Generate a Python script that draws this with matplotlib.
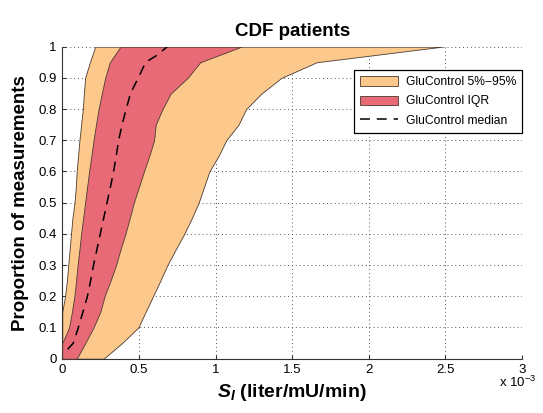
import numpy as np
import matplotlib
matplotlib.use("Agg")
import matplotlib.pyplot as plt
from matplotlib.ticker import FuncFormatter, MultipleLocator

plt.rcParams['font.family'] = ['Liberation Sans', 'DejaVu Sans']
plt.rcParams['mathtext.fontset'] = 'custom'
plt.rcParams['mathtext.rm'] = 'Liberation Sans'
plt.rcParams['mathtext.it'] = 'Liberation Sans:italic'
plt.rcParams['mathtext.bf'] = 'Liberation Sans:bold'
plt.rcParams['mathtext.bfit'] = 'Liberation Sans:bold:italic'

# Proportion levels (y) for the band edges
prop = [0, 0.05, 0.1, 0.15, 0.2, 0.25, 0.3, 0.35, 0.4, 0.45, 0.5,
        0.55, 0.6, 0.65, 0.7, 0.75, 0.8, 0.85, 0.9, 0.95, 1.0]
# SI values (x 1e-3 liter/mU/min)
p05 = [0, 0, 0, 0, 0.018, 0.03, 0.039, 0.048, 0.057, 0.066, 0.08,
       0.088, 0.094, 0.103, 0.112, 0.123, 0.134, 0.141, 0.149, 0.18, 0.215]
p25 = [0, 0, 0.044, 0.063, 0.079, 0.09, 0.10, 0.112, 0.123, 0.136, 0.149,
       0.162, 0.175, 0.19, 0.204, 0.22, 0.237, 0.258, 0.28, 0.31, 0.38]
p75 = [0.094, 0.15, 0.204, 0.248, 0.276, 0.315, 0.351, 0.38, 0.412, 0.44, 0.467,
       0.5, 0.533, 0.568, 0.599, 0.61, 0.654, 0.708, 0.818, 0.9, 1.169]
p95 = [0.27, 0.39, 0.496, 0.544, 0.592, 0.64, 0.686, 0.74, 0.796, 0.845, 0.89,
       0.925, 0.96, 1.02, 1.07, 1.15, 1.2, 1.3, 1.43, 1.66, 2.48]
prop_med = [0.03, 0.05, 0.1, 0.15, 0.2, 0.25, 0.3, 0.35, 0.4, 0.45, 0.5,
            0.55, 0.6, 0.65, 0.7, 0.75, 0.8, 0.85, 0.9, 0.95, 0.97, 1.0]
p50 = [0.035, 0.072, 0.105, 0.135, 0.164, 0.185, 0.204, 0.226, 0.248, 0.27, 0.292,
       0.314, 0.335, 0.352, 0.368, 0.39, 0.417, 0.445, 0.496, 0.544, 0.61, 0.686]

scale = 1e-3
y = np.array(prop)
x05 = np.array(p05) * scale
x25 = np.array(p25) * scale
x75 = np.array(p75) * scale
x95 = np.array(p95) * scale
x50 = np.array(p50) * scale
ym = np.array(prop_med)

orange = '#FDC88C'
red = '#E86A77'
edge = '#4a3a30'

fig = plt.figure(figsize=(5.43, 4.13), dpi=100)
ax = fig.add_axes([0.1147, 0.1315, 0.8466, 0.7555])

ax.fill_betweenx(y, x05, x95, facecolor=orange, edgecolor=edge, linewidth=0.6,
                 label='GluControl 5%\u221295%', zorder=2)
ax.fill_betweenx(y, x25, x75, facecolor=red, edgecolor=edge, linewidth=0.6,
                 label='GluControl IQR', zorder=3)
ax.plot(x50, ym, color='black', linestyle=(0, (6.5, 4.5)), linewidth=1.1,
        label='GluControl median', zorder=4)

ax.set_xlim(0, 3e-3)
ax.set_ylim(0, 1)
ax.xaxis.set_major_locator(MultipleLocator(0.5e-3))
ax.yaxis.set_major_locator(MultipleLocator(0.1))
ax.xaxis.set_major_formatter(FuncFormatter(lambda v, p: f"{v/scale:g}"))
ax.yaxis.set_major_formatter(FuncFormatter(lambda v, p: f"{round(v, 2):g}"))
ax.grid(True, linestyle=(0, (1, 3)), color='#555555', linewidth=0.7, zorder=0)
ax.set_axisbelow(True)
for s in ['top', 'right']:
    ax.spines[s].set_visible(False)
for s in ['left', 'bottom']:
    ax.spines[s].set_color('#333333')
    ax.spines[s].set_linewidth(0.8)
ax.tick_params(direction='in', length=3, labelsize=9.5, colors='#333333',
               labelcolor='black', pad=4)

ax.set_title('CDF patients', fontsize=13.5, fontweight='bold', pad=8)
ax.set_ylabel('Proportion of measurements', fontsize=13.5, fontweight='bold', labelpad=7)
ax.set_xlabel(r'$\mathbfit{S}_{\mathbfit{I}}$ (liter/mU/min)', fontsize=14,
              fontweight='bold', labelpad=4)
ax.text(0.99, -0.052, r'x 10$^{-3}$', transform=ax.transAxes, ha='center',
        va='top', fontsize=9.5)

leg = ax.legend(loc='upper right', bbox_to_anchor=(1.0, 0.925), borderaxespad=0,
                fontsize=8.7, frameon=True, fancybox=False, handlelength=3.2,
                handleheight=0.8, labelspacing=0.6, borderpad=0.5,
                handletextpad=0.6)
leg.get_frame().set_edgecolor('black')
leg.get_frame().set_linewidth(0.9)
leg.get_frame().set_alpha(1)

fig.savefig('out.png', dpi=100)
